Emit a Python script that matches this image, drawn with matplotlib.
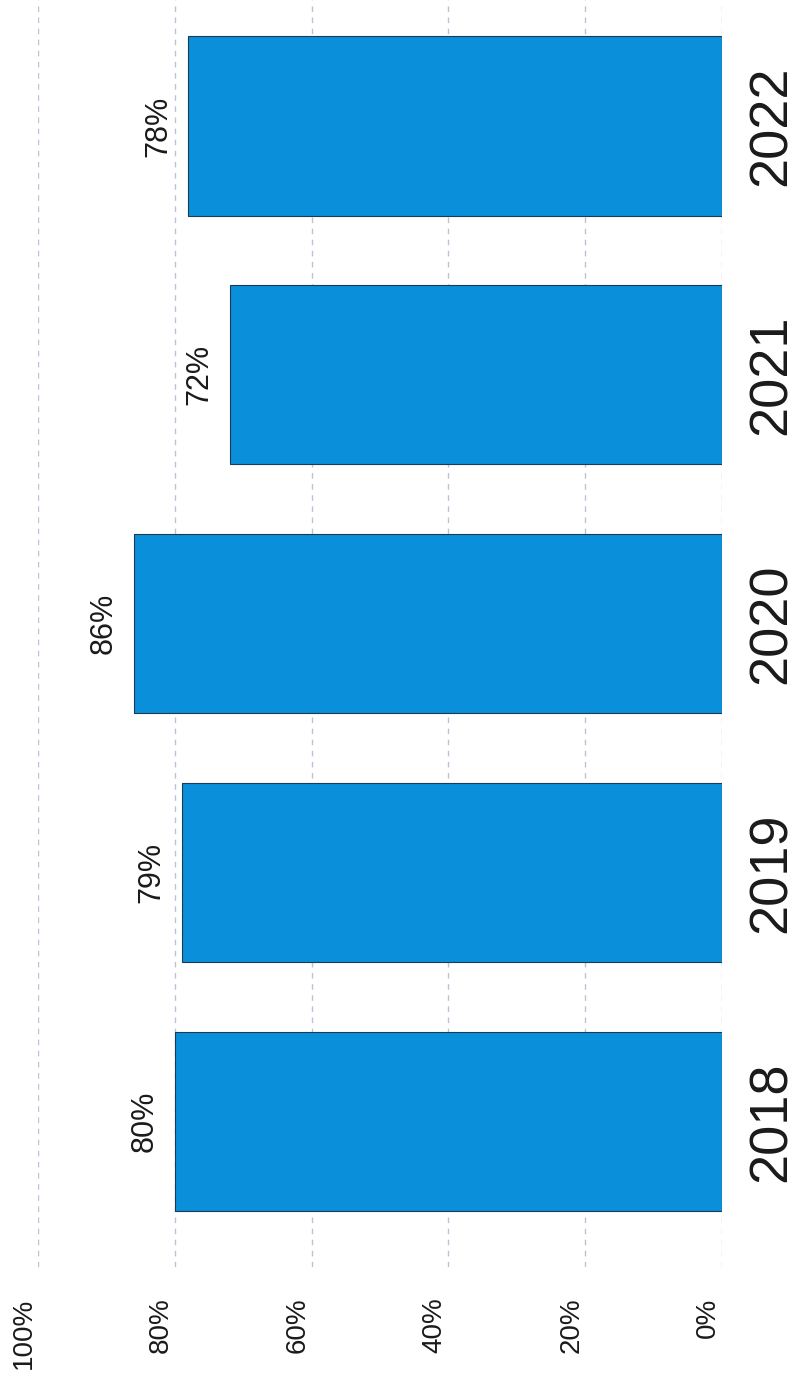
import matplotlib
matplotlib.use("Agg")
import matplotlib.pyplot as plt
import matplotlib.transforms as mtransforms

plt.rcParams['font.family'] = ['Liberation Sans', 'DejaVu Sans']

# data
years = ['2018', '2019', '2020', '2021', '2022']
values = [80, 79, 86, 72, 78]
tick_vals = [0, 20, 40, 60, 80, 100]
tick_labels = ['0%', '20%', '40%', '60%', '80%', '100%']

fig = plt.figure(figsize=(8.01, 13.84), dpi=100)
ax = fig.add_axes([0.0474, 0.0845, 0.854, 0.9155])

pos = list(range(len(years)))
ax.barh(pos, values, height=0.72, color='#0a8fda', edgecolor='#1d3a55', linewidth=0.8, zorder=3)

# value labels (rotated, left of bar end)
for p, v in zip(pos, values):
    ax.annotate(f"{v}%", (v, p), xytext=(-22, 0), textcoords='offset points',
                rotation=90, ha='center', va='center', fontsize=22, color='#1a1a1a')

ax.set_xlim(100, 0)
ax.set_ylim(-0.585, 4.506)

ax.set_xticks(tick_vals)
ax.set_xticklabels(tick_labels, rotation=90, fontsize=20, color='#1a1a1a')
ax.tick_params(axis='x', length=0, pad=22)
# shift tick labels a bit to the left, like the scan
offset = mtransforms.ScaledTranslation(-14 / 100, 0, fig.dpi_scale_trans)
for lab in ax.get_xticklabels():
    lab.set_transform(lab.get_transform() + offset)

ax.yaxis.tick_right()
ax.set_yticks(pos)
ax.set_yticklabels(years, rotation=90, fontsize=39, color='#1a1a1a', va='center')
ax.tick_params(axis='y', length=0, pad=18)

ax.grid(axis='x', color='#b9c3d6', linestyle=(0, (4, 4)), linewidth=1, zorder=0)
for s in ax.spines.values():
    s.set_visible(False)

fig.savefig('out.png', dpi=100)
